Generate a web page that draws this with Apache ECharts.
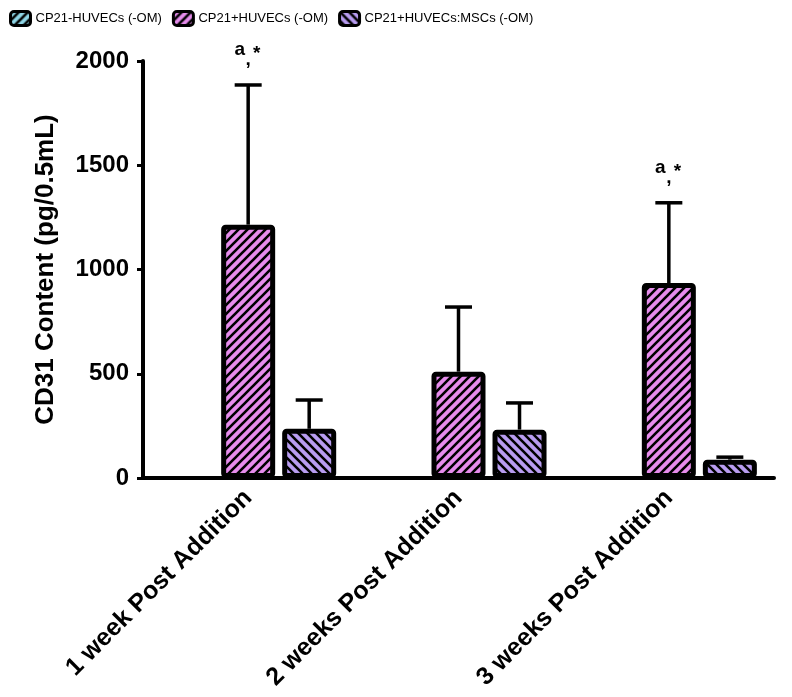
<!DOCTYPE html>
<html><head><meta charset="utf-8">
<script src="https://cdn.jsdelivr.net/npm/echarts@6/dist/echarts.min.js"></script>
<style>html,body{margin:0;padding:0;background:#fff}#c{width:792px;height:697px}</style>
</head><body><div id="c"></div>
<script>
const categories = ['1 week Post Addition', '2 weeks Post Addition', '3 weeks Post Addition'];
const seriesNames = ['CP21-HUVECs (-OM)', 'CP21+HUVECs (-OM)', 'CP21+HUVECs:MSCs (-OM)'];
const cp21Values = [0, 0, 0];
const cp21Errors = [0, 0, 0];
const huvecValues = [1215, 510, 935];
const huvecErrors = [670, 310, 385];
const mscValues = [236, 232, 88];
const mscErrors = [138, 128, 12];
const huvecMarks = ['a,*', '', 'a,*'];
const yTicks = [0, 500, 1000, 1500, 2000];

const BAR_W = 54, BAR_GAP = 0.13;
const SLOT = BAR_W * (1 + BAR_GAP);
const FONT = "'Liberation Sans', Arial, Helvetica, sans-serif";

function hatch(bg, dir) {
  const s = 9;
  const c = document.createElement('canvas'); c.width = s; c.height = s;
  const g = c.getContext('2d');
  g.fillStyle = bg; g.fillRect(0, 0, s, s);
  g.strokeStyle = '#000'; g.lineWidth = 2.6;
  g.beginPath();
  if (dir > 0) {
    g.moveTo(-2, s + 2); g.lineTo(s + 2, -2);
    g.moveTo(-2, 2); g.lineTo(2, -2);
    g.moveTo(s - 2, s + 2); g.lineTo(s + 2, s - 2);
  } else {
    g.moveTo(-2, -2); g.lineTo(s + 2, s + 2);
    g.moveTo(s - 2, -2); g.lineTo(s + 2, 2);
    g.moveTo(-2, s - 2); g.lineTo(2, s + 2);
  }
  g.stroke();
  return { image: c, repeat: 'repeat' };
}

const fills = [hatch('#8fd6e6', 1), hatch('#e68cec', 1), hatch('#b89cf0', -1)];
const valueSets = [cp21Values, huvecValues, mscValues];
const errorSets = [cp21Errors, huvecErrors, mscErrors];

const barSeries = valueSets.map((vals, k) => ({
  type: 'bar', name: seriesNames[k], barWidth: BAR_W, barGap: (BAR_GAP * 100) + '%',
  z: 2,
  data: vals.map(v => v === 0 ? { value: v, itemStyle: { borderWidth: 0, opacity: 0 } } : v),
  itemStyle: { color: fills[k], borderColor: '#000', borderWidth: 5, borderRadius: 2 },
  emphasis: { disabled: true }
}));

const errSeries = valueSets.map((vals, k) => ({
  type: 'custom', name: seriesNames[k] + ' error', z: 1, silent: true,
  data: vals.map((v, i) => [i, v, v + errorSets[k][i]]),
  encode: { x: 0, y: [1, 2] },
  renderItem: (params, api) => {
    const i = api.value(0);
    if (api.value(2) <= api.value(1)) return null;
    const base = api.coord([i, api.value(1)]);
    const top = api.coord([i, api.value(2)]);
    const x = base[0] + (k - 1) * SLOT;
    return { type: 'group', children: [
      { type: 'line', shape: { x1: x, y1: base[1], x2: x, y2: top[1] }, style: { stroke: '#000', lineWidth: 3.5 } },
      { type: 'line', shape: { x1: x - 13.5, y1: top[1], x2: x + 13.5, y2: top[1] }, style: { stroke: '#000', lineWidth: 3.5 } }
    ] };
  }
}));

const markSeries = {
  type: 'custom', name: 'marks', z: 4, silent: true,
  data: huvecValues.map((v, i) => [i, v + huvecErrors[i]]),
  encode: { x: 0, y: 1 },
  renderItem: (params, api) => {
    const i = api.value(0);
    const txt = huvecMarks[i];
    if (!txt) return null;
    const parts = txt.split(',');
    const p = api.coord([i, api.value(1)]);
    const x = p[0], y = p[1];
    const st = { fill: '#000', font: 'bold 19px ' + FONT, textAlign: 'center', textVerticalAlign: 'middle' };
    return { type: 'group', children: [
      { type: 'text', x: x - 8.5, y: y - 35, style: Object.assign({ text: parts[0] }, st) },
      { type: 'text', x: x + 8.5, y: y - 31, style: Object.assign({ text: parts[1] }, st) },
      { type: 'text', x: x, y: y - 25, style: Object.assign({ text: ',' }, st) }
    ] };
  }
};

const chart = echarts.init(document.getElementById('c'), null, { renderer: 'canvas' });
chart.setOption({
  animation: false,
  backgroundColor: '#fff',
  legend: {
    data: seriesNames, left: 4, top: 5, itemWidth: 20, itemHeight: 14, itemGap: 10,
    icon: 'roundRect',
    itemStyle: { borderColor: '#000', borderWidth: 3 },
    textStyle: { fontFamily: FONT, fontSize: 13, color: '#000' }
  },
  grid: { left: 143, right: 18, top: 61, bottom: 219 },
  xAxis: {
    type: 'category', data: categories,
    axisLine: { lineStyle: { color: '#000', width: 4 } },
    axisTick: { alignWithLabel: true, length: 7, lineStyle: { color: '#000', width: 3 } },
    axisLabel: { rotate: 45, margin: 16, color: '#000', fontSize: 25, fontWeight: 'bold', fontFamily: FONT }
  },
  yAxis: {
    type: 'value', min: yTicks[0], max: yTicks[yTicks.length - 1], interval: yTicks[1] - yTicks[0],
    name: 'CD31 Content (pg/0.5mL)', nameLocation: 'middle', nameGap: 84, nameRotate: 90,
    nameTextStyle: { color: '#000', fontSize: 26, fontWeight: 'bold', fontFamily: FONT },
    axisLine: { show: true, lineStyle: { color: '#000', width: 4 } },
    axisTick: { show: true, length: 6, lineStyle: { color: '#000', width: 3 } },
    splitLine: { show: false },
    axisLabel: { margin: 14, color: '#000', fontSize: 24, fontWeight: 'bold', fontFamily: FONT, formatter: v => String(v) }
  },
  series: [...errSeries, ...barSeries, markSeries]
});
</script>
</body></html>
